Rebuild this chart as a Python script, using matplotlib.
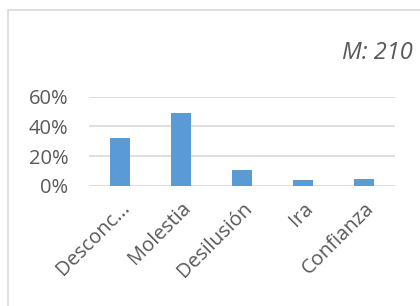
import matplotlib
import matplotlib.patches as mpatches

matplotlib.use("Agg")
import matplotlib.pyplot as plt

categorias = ["Desconc...", "Molestia", "Desilusión", "Ira", "Confianza"]
porcentajes = [32, 49, 10.5, 4, 4.7]
y_ticks = [0, 20, 40, 60]
y_labels = ["0%", "20%", "40%", "60%"]
nota = "M: 210"

plt.rcParams["font.family"] = ["Open Sans", "DejaVu Sans"]
GRIS_TEXTO = "#595959"
GRIS_LINEA = "#d9d9d9"
AZUL = "#5b9bd5"

fig = plt.figure(figsize=(4.2, 3.06), dpi=100)
ax = fig.add_axes([0.212, 0.393, 0.728, 0.291])

# marco del gráfico (sale por la derecha y por abajo)
fig.patches.append(
    mpatches.Rectangle(
        (8 / 420, -0.1),
        1.0,
        1 - 10 / 306 + 0.1,
        transform=fig.transFigure,
        fill=False,
        edgecolor=GRIS_LINEA,
        linewidth=1.2,
        zorder=0,
    )
)

x = range(len(categorias))
ax.bar(x, porcentajes, width=0.33, color=AZUL, zorder=3)

ax.set_xlim(-0.5, len(categorias) - 0.5)
ax.set_ylim(0, 60)
ax.set_yticks(y_ticks)
ax.set_yticklabels(y_labels, fontsize=14.5, color=GRIS_TEXTO)
ax.yaxis.grid(True, color=GRIS_LINEA, linewidth=1.2, zorder=0)
ax.tick_params(axis="y", length=0, pad=15)
for spine in ax.spines.values():
    spine.set_visible(False)

ax.set_xticks(list(x))
ax.set_xticklabels(categorias, fontsize=14.5, color=GRIS_TEXTO, rotation=45,
                   ha="right", va="top", rotation_mode="anchor")
ax.tick_params(axis="x", length=0, pad=9)

fig.text(413 / 420, 1 - 53 / 306, nota, ha="right", va="center", fontsize=17,
         style="italic", color=GRIS_TEXTO)

fig.savefig("out.png", dpi=100, facecolor="white")
